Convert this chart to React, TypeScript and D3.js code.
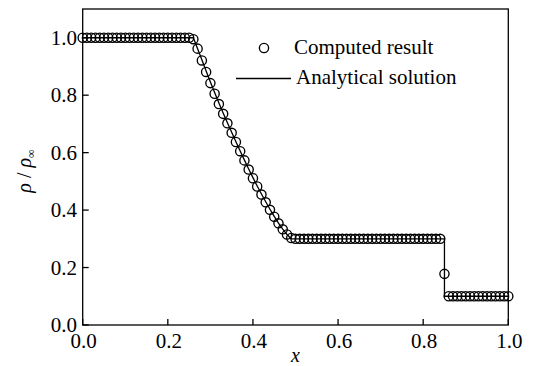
import React from "react";
import * as d3 from "d3";

const W = 538;
const H = 366;

// Grid positions of the numerical solution (101 cells on [0, 1])
const computedX: number[] = d3.range(0, 101).map((i) => i / 100);

// Density of the numerical solution at each grid point
const computedRho: number[] = [
  // x = 0.00 .. 0.25
  1.0, 1.0, 1.0, 1.0, 1.0, 1.0, 1.0, 1.0, 1.0, 1.0,
  1.0, 1.0, 1.0, 1.0, 1.0, 1.0, 1.0, 1.0, 1.0, 1.0,
  1.0, 1.0, 1.0, 1.0, 1.0, 1.0,
  // x = 0.26 .. 0.50 (rarefaction fan)
  0.995, 0.962, 0.921, 0.881, 0.842, 0.805, 0.769, 0.735, 0.702, 0.669,
  0.637, 0.605, 0.573, 0.541, 0.511, 0.482, 0.454, 0.427, 0.401, 0.377,
  0.354, 0.333, 0.315, 0.303, 0.3,
  // x = 0.51 .. 0.84 (plateau)
  0.3, 0.3, 0.3, 0.3, 0.3, 0.3, 0.3, 0.3, 0.3, 0.3,
  0.3, 0.3, 0.3, 0.3, 0.3, 0.3, 0.3, 0.3, 0.3, 0.3,
  0.3, 0.3, 0.3, 0.3, 0.3, 0.3, 0.3, 0.3, 0.3, 0.3,
  0.3, 0.3, 0.3, 0.3,
  // x = 0.85 (shock)
  0.178,
  // x = 0.86 .. 1.00
  0.1, 0.1, 0.1, 0.1, 0.1, 0.1, 0.1, 0.1, 0.1, 0.1,
  0.1, 0.1, 0.1, 0.1, 0.1,
];

// Exact solution: breakpoints of the piecewise profile
const analyticX: number[] = [
  0.0, 0.26, 0.27, 0.28, 0.29, 0.3, 0.31, 0.32, 0.33, 0.34, 0.35, 0.36, 0.37,
  0.38, 0.39, 0.4, 0.41, 0.42, 0.43, 0.44, 0.45, 0.46, 0.47, 0.48, 0.49, 0.85,
  0.85, 1.0,
];
const analyticRho: number[] = [
  1.0, 1.0, 0.962, 0.923, 0.884, 0.846, 0.809, 0.773, 0.738, 0.704, 0.671,
  0.638, 0.606, 0.574, 0.543, 0.513, 0.484, 0.456, 0.429, 0.403, 0.378, 0.355,
  0.334, 0.315, 0.3, 0.3, 0.1, 0.1,
];

const xTicks: number[] = [0, 0.2, 0.4, 0.6, 0.8, 1.0];
const yTicks: number[] = [0, 0.2, 0.4, 0.6, 0.8, 1.0];

const legendLabels: string[] = ["Computed result", "Analytical solution"];

const FONT = "Liberation Serif, Times New Roman, serif";

export default function App() {
  const left = 82.7;
  const right = 508.3;
  const top = 9;
  const bottom = 325;

  const x = d3.scaleLinear().domain([0, 1]).range([left, right]);
  const y = d3.scaleLinear().domain([0, 1.1]).range([bottom, top]);

  const linePath =
    d3
      .line<number>()
      .x((_, i) => x(analyticX[i]))
      .y((d) => y(d))(analyticRho) ?? "";

  const tickLen = 6;
  const textStyle = { fontFamily: FONT };

  return (
    <svg
      width={W}
      height={H}
      style={{ position: "absolute", left: 0, top: 0, background: "#fff" }}
    >
      <rect x={0} y={0} width={W} height={H} fill="#fff" />

      {/* exact solution */}
      <path d={linePath} fill="none" stroke="#000" strokeWidth={1.3} />

      {/* numerical solution */}
      <g fill="none" stroke="#000" strokeWidth={1.35}>
        {computedRho.map((r, i) => (
          <circle key={i} cx={x(computedX[i])} cy={y(r)} r={4.6} />
        ))}
      </g>

      {/* frame */}
      <rect
        x={left}
        y={top}
        width={right - left}
        height={bottom - top}
        fill="none"
        stroke="#000"
        strokeWidth={1.3}
      />

      {/* x axis ticks and labels */}
      {xTicks.map((t) => (
        <g key={"x" + t}>
          <line
            x1={x(t)}
            x2={x(t)}
            y1={bottom}
            y2={bottom - tickLen}
            stroke="#000"
            strokeWidth={1.3}
          />
          <text
            x={x(t) + 1}
            y={348}
            textAnchor="middle"
            fontSize={21}
            fill="#000"
            style={textStyle}
          >
            {t.toFixed(1)}
          </text>
        </g>
      ))}

      {/* y axis ticks and labels */}
      {yTicks.map((t) => (
        <g key={"y" + t}>
          <line
            x1={left}
            x2={left + tickLen}
            y1={y(t)}
            y2={y(t)}
            stroke="#000"
            strokeWidth={1.3}
          />
          <text
            x={77}
            y={y(t) + 7}
            textAnchor="end"
            fontSize={21}
            fill="#000"
            style={textStyle}
          >
            {t.toFixed(1)}
          </text>
        </g>
      ))}

      {/* axis titles */}
      <text
        x={x(0.5)}
        y={362}
        textAnchor="middle"
        fontSize={20}
        fontStyle="italic"
        fill="#000"
        style={textStyle}
      >
        x
      </text>
      <text
        transform={`translate(31, ${(top + bottom) / 2 + 4}) rotate(-90)`}
        textAnchor="middle"
        fontSize={20}
        fill="#000"
        style={textStyle}
      >
        <tspan fontStyle="italic">ρ</tspan>
        <tspan> / </tspan>
        <tspan fontStyle="italic">ρ</tspan>
        <tspan fontSize={12} dy={4}>∞</tspan>
      </text>

      {/* legend */}
      <circle cx={264} cy={48} r={4.6} fill="none" stroke="#000" strokeWidth={1.35} />
      <text x={294} y={53.5} fontSize={21} fill="#000" style={textStyle}>
        {legendLabels[0]}
      </text>
      <line x1={236} x2={291} y1={78.5} y2={78.5} stroke="#000" strokeWidth={1.3} />
      <text x={296} y={83.5} fontSize={21} fill="#000" style={textStyle}>
        {legendLabels[1]}
      </text>
    </svg>
  );
}
